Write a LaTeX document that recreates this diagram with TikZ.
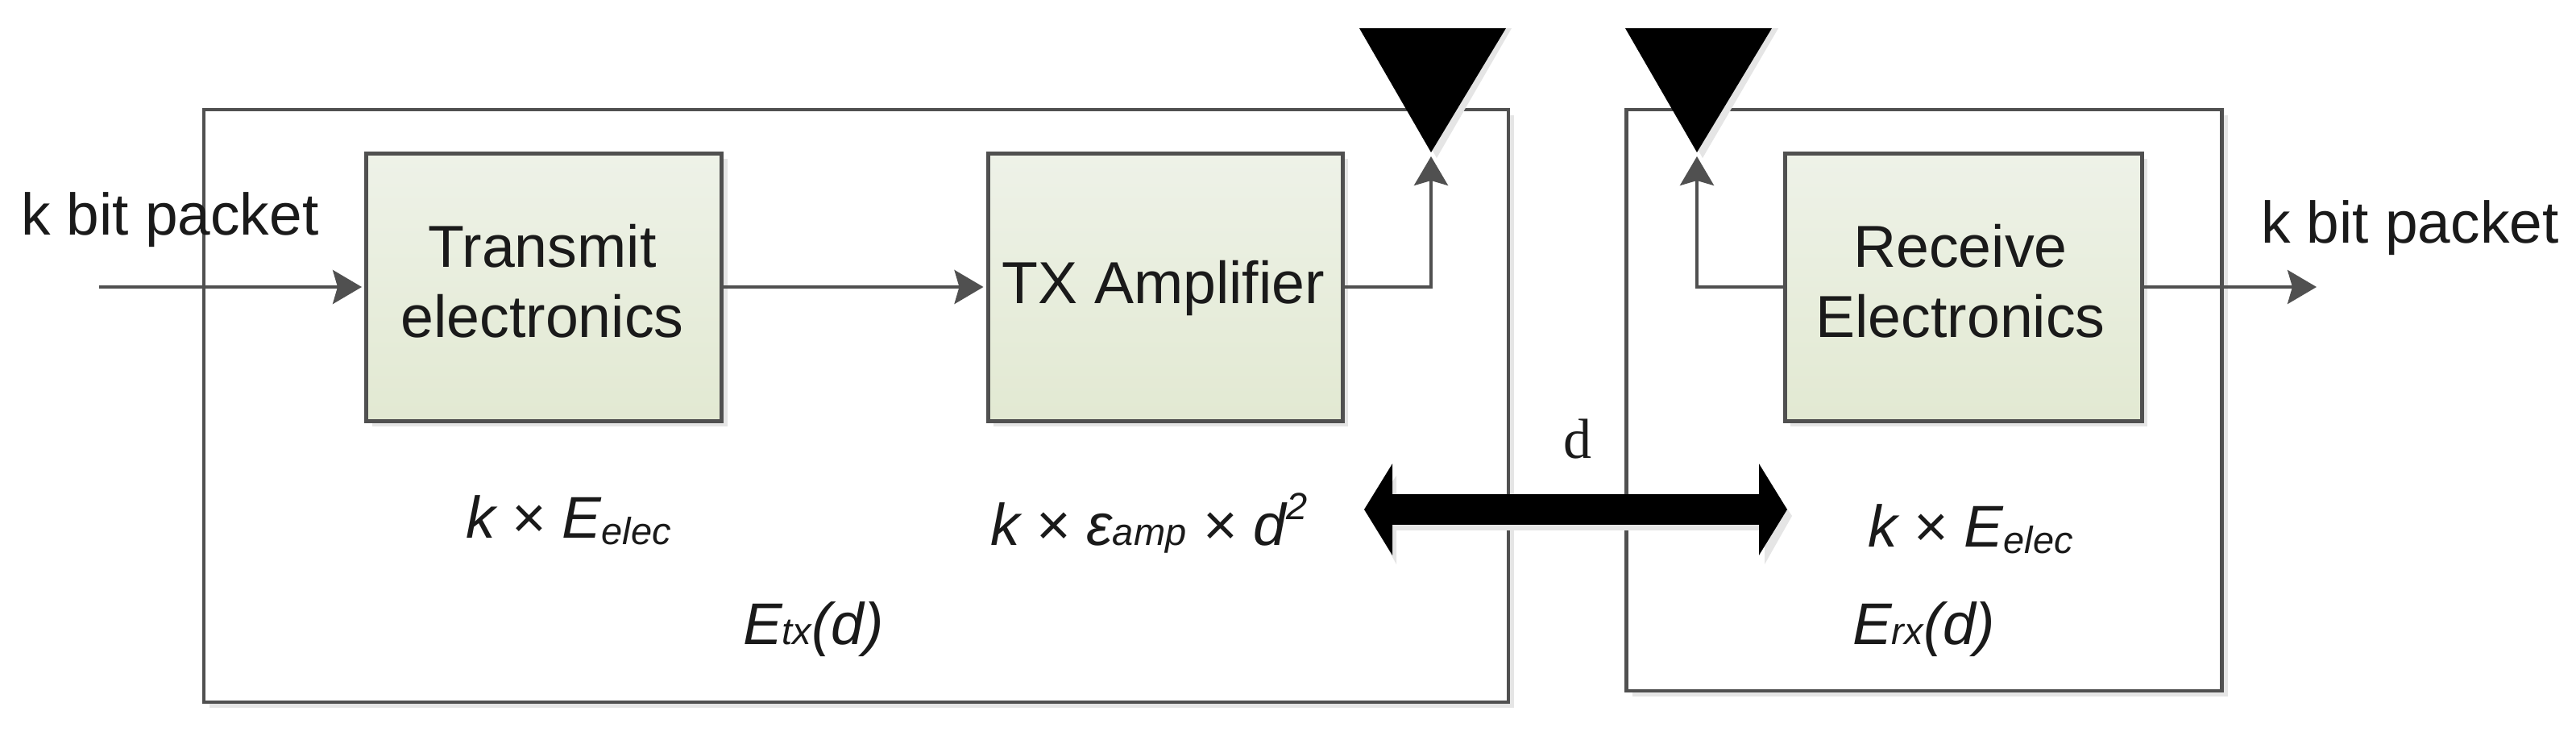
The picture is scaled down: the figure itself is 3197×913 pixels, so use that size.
\documentclass[tikz,border=0pt]{standalone}
\usepackage{fontspec}
\setmainfont{Liberation Sans}
\newfontfamily\dfont{Liberation Serif}
\usetikzlibrary{arrows.meta,shadows}
\definecolor{linec}{HTML}{505050}
\definecolor{txtc}{HTML}{1A1A1A}
\newcommand{\subs}[1]{\raisebox{-8pt}{\fontsize{47}{50}\selectfont #1}}
\newcommand{\subb}[1]{{\fontsize{47}{50}\selectfont #1}}
\tikzset{
  x=1pt,y=-1pt,
  softshadow/.style={copy shadow={shadow xshift=7pt,shadow yshift=-7pt,draw=none,fill=black!10}},
  outerbox/.style={draw=linec,line width=4.5pt,fill=white,inner sep=0pt,softshadow},
  blockbox/.style={draw=linec,line width=5pt,top color=boxtop,bottom color=boxbot,inner sep=0pt,
    minimum height=332pt,softshadow},
  lbl/.style={inner sep=0pt,anchor=base west,text=txtc,font=\fontsize{73}{87}\selectfont},
  clbl/.style={inner sep=0pt,anchor=base,text=txtc,align=center,font=\fontsize{73.5}{87}\selectfont},
  flow/.style={draw=linec,line width=4pt,-{Stealth[length=36pt,width=42pt,inset=6pt]},shorten >=3pt},
  thick arrow/.style={line width=38pt,{Triangle[length=35pt,width=112pt]}-{Triangle[length=35pt,width=112pt]},black},
  antenna/.style={fill=black,draw=none},
}
\definecolor{boxtop}{HTML}{EEF2E8}
\definecolor{boxbot}{HTML}{E2E9D2}
\begin{document}
\begin{tikzpicture}
\useasboundingbox[fill=white] (0,0) rectangle (3197,913);
% outer frames
\node[outerbox,minimum width=1619pt,minimum height=735pt] (txframe) at (1062.5,503.5) {};
\node[outerbox,minimum width=739pt,minimum height=721pt] (rxframe) at (2388,496.5) {};
% blocks
\node[blockbox,minimum width=441pt] (tx) at (675,356) {};
\node[blockbox,minimum width=440pt] (amp) at (1446,356) {};
\node[blockbox,minimum width=443pt] (rx) at (2436.5,356) {};
% antennas
\fill[black!10] (1695,35) -- (1876,35) -- (1783,196) -- cycle;
\fill[black!10] (2025,35) -- (2207,35) -- (2113,196) -- cycle;
\fill[antenna] (1687,35) -- (1869,35) -- (1776,189) -- cycle;
\fill[antenna] (2017,35) -- (2199,35) -- (2106,189) -- cycle;
\coordinate (txant) at (1776,191);
\coordinate (rxant) at (2106,191);
\coordinate (inp) at (123,356);
\coordinate (outp) at (2878,356);
\coordinate (dl) at (1693,632);
\coordinate (dr) at (2218,632);
% connectors
\draw[flow] (inp) -- (tx.west);
\draw[flow] (tx.east) -- (amp.west);
\draw[flow] (amp.east) -| (txant);
\draw[flow] (rx.west) -| (rxant);
\draw[flow] (rx.east) -- (outp);
\fill[black!10] (1733,590) -- (1733,700) -- (1700,640) -- cycle;
\fill[black!10] (2190,590) -- (2190,700) -- (2224,640) -- cycle;
\fill[black!10] (1730,651) rectangle (2185,658);
\draw[thick arrow] (dl) -- (dr);
% labels
\node[lbl] (inl) at (26,291) {k bit packet};
\node[lbl] (outl) at (2806,301) {k bit packet};
\node[clbl] (txl) at (673,418) {Transmit\\electronics};
\node[clbl] (ampl) at (1444,376) {TX Amplifier};
\node[clbl] (rxl) at (2433,418) {Receive\\Electronics};
\node[lbl,font=\fontsize{73}{87}\selectfont\itshape] (e1) at (578,667) {k × E\subs{elec}};
\node[lbl,font=\fontsize{73}{87}\selectfont\itshape] (e2) at (1229,676) {k × ε\subb{amp} × d\raisebox{32pt}{\fontsize{47}{50}\selectfont 2}};
\node[lbl,font=\fontsize{73}{87}\selectfont\itshape] (e3) at (2318,678) {k × E\subs{elec}};
\node[lbl,font=\fontsize{73}{87}\selectfont\itshape] (e4) at (922,799) {E\subb{tx}(d)};
\node[lbl,font=\fontsize{73}{87}\selectfont\itshape] (e5) at (2299,799) {E\subb{rx}(d)};
\node[clbl,font=\fontsize{70}{80}\dfont\selectfont] (dlab) at (1958,568) {d};
\end{tikzpicture}
\end{document}
